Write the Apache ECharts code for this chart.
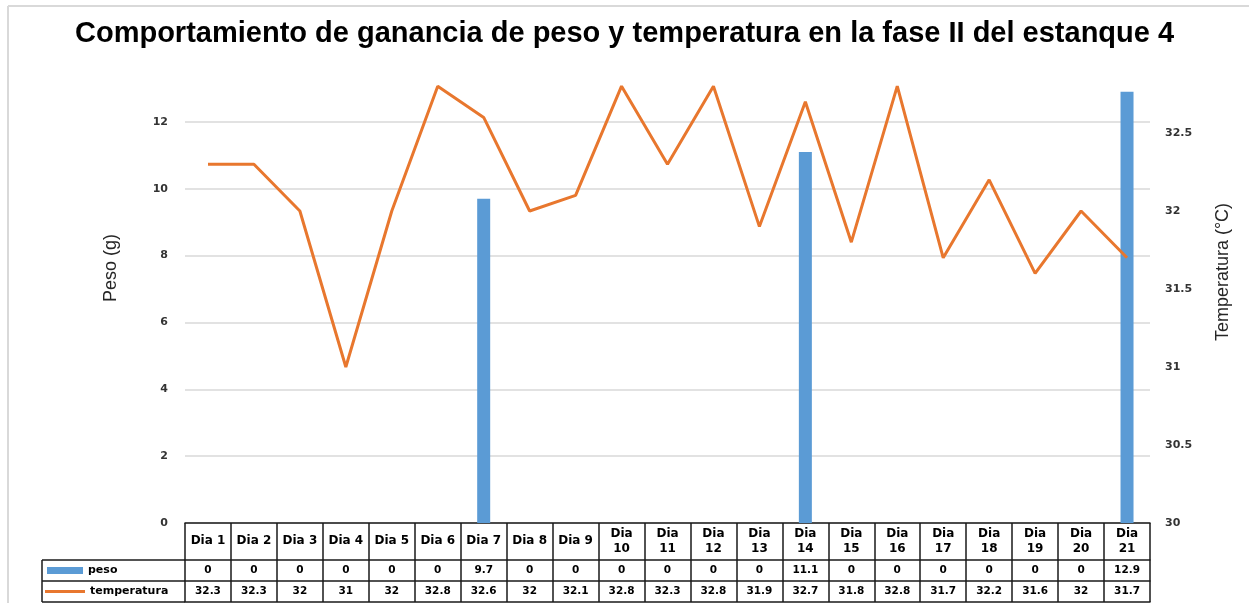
<!DOCTYPE html>
<html>
<head>
<meta charset="utf-8">
<script src="https://cdn.jsdelivr.net/npm/echarts@6/dist/echarts.min.js"></script>
<style>
  html, body { margin: 0; padding: 0; background: #fff; }
  #chart { width: 1249px; height: 603px; }
</style>
</head>
<body>
<div id="chart"></div>
<script>
var categories = ["Dia 1", "Dia 2", "Dia 3", "Dia 4", "Dia 5", "Dia 6", "Dia 7", "Dia 8", "Dia 9", "Dia 10", "Dia 11",
  "Dia 12", "Dia 13", "Dia 14", "Dia 15", "Dia 16", "Dia 17", "Dia 18", "Dia 19", "Dia 20", "Dia 21"];
var peso = [0, 0, 0, 0, 0, 0, 9.7, 0, 0, 0, 0, 0, 0, 11.1, 0, 0, 0, 0, 0, 0, 12.9];
var temperatura = [32.3, 32.3, 32, 31, 32, 32.8, 32.6, 32, 32.1, 32.8, 32.3, 32.8, 31.9, 32.7, 31.8, 32.8, 31.7, 32.2, 31.6, 32, 31.7];

var myChart = echarts.init(document.getElementById("chart"));

var borde = { color: "#1a1a1a", width: 1.5 };
var fuenteTabla = { fontFamily: "DejaVu Sans", fontWeight: "bold", color: "#000" };

// filas de la tabla de datos: un eje categoria por fila
function filaTabla(serie, offset) {
  return {
    type: "category",
    position: "bottom",
    offset: offset,
    data: categories,
    axisLine: { show: true, lineStyle: borde },
    axisTick: { show: true, interval: 0, length: 21, lineStyle: borde },
    axisLabel: {
      interval: 0,
      margin: 10.5,
      verticalAlign: "middle",
      fontSize: 10.5,
      fontFamily: fuenteTabla.fontFamily,
      fontWeight: fuenteTabla.fontWeight,
      color: fuenteTabla.color,
      formatter: function (v) {
        return String(serie[categories.indexOf(v)]);
      }
    },
    splitLine: { show: false }
  };
}

var option = {
  animation: false,
  backgroundColor: "#fff",
  title: {
    text: "Comportamiento de ganancia de peso y temperatura en la fase II del estanque 4",
    left: 67,
    top: 17,
    padding: [2, 8],
    backgroundColor: "#fff",
    textStyle: {
      fontFamily: "Liberation Sans",
      fontWeight: "bold",
      fontSize: 29,
      color: "#000"
    }
  },
  legend: [
    {
      data: ["peso"],
      left: 47,
      top: 565,
      padding: 0,
      icon: "rect",
      itemWidth: 36,
      itemHeight: 7,
      selectedMode: false,
      textStyle: { fontFamily: "DejaVu Sans", fontWeight: "bold", fontSize: 11, color: "#000" }
    },
    {
      data: ["temperatura"],
      left: 45,
      top: 586,
      padding: 0,
      icon: "path://M0,0L40,0L40,3L0,3Z",
      itemWidth: 40,
      itemHeight: 3,
      selectedMode: false,
      textStyle: { fontFamily: "DejaVu Sans", fontWeight: "bold", fontSize: 11, color: "#000" }
    }
  ],
  grid: {
    left: 185,
    right: 99,
    top: 55,
    bottom: 80,
    containLabel: false,
    outerBoundsMode: "none"
  },
  xAxis: [
    {
      type: "category",
      position: "bottom",
      data: categories,
      axisLine: { show: true, lineStyle: borde },
      axisTick: { show: true, interval: 0, length: 37, lineStyle: borde },
      axisLabel: {
        interval: 0,
        margin: 18,
        verticalAlign: "middle",
        lineHeight: 15,
        fontSize: 12,
        fontFamily: fuenteTabla.fontFamily,
        fontWeight: fuenteTabla.fontWeight,
        color: fuenteTabla.color,
        formatter: function (v) {
          return v.length > 5 ? v.replace(" ", "\n") : v;
        }
      },
      splitLine: { show: false }
    },
    filaTabla(peso, 37),
    filaTabla(temperatura, 58),
    {
      type: "category",
      position: "bottom",
      offset: 79,
      data: categories,
      axisLine: { show: true, lineStyle: borde },
      axisTick: { show: false },
      axisLabel: { show: false },
      splitLine: { show: false }
    }
  ],
  yAxis: [
    {
      type: "value",
      name: "Peso (g)",
      nameLocation: "middle",
      nameRotate: 90,
      nameGap: 65,
      nameTextStyle: { fontFamily: "Liberation Sans", fontSize: 18, color: "#262626", padding: [0, 0, 0, 42] },
      min: 0,
      max: 14,
      interval: 2,
      axisLine: { show: false },
      axisTick: { show: false },
      axisLabel: {
        showMaxLabel: false,
        margin: 17,
        fontFamily: "DejaVu Sans",
        fontWeight: "bold",
        fontSize: 11,
        color: "#333"
      },
      splitLine: { show: true, showMaxLine: false, lineStyle: { color: "#d9d9d9", width: 1.5 } }
    },
    {
      type: "value",
      name: "Temperatura (°C)",
      nameLocation: "middle",
      nameRotate: 90,
      nameGap: 64,
      nameTextStyle: { fontFamily: "Liberation Sans", fontSize: 18, color: "#262626", padding: [0, 0, 0, 34] },
      min: 30,
      max: 33,
      interval: 0.5,
      axisLine: { show: false },
      axisTick: { show: false },
      axisLabel: {
        showMaxLabel: false,
        margin: 15,
        fontFamily: "DejaVu Sans",
        fontWeight: "bold",
        fontSize: 11,
        color: "#333"
      },
      splitLine: { show: false }
    }
  ],
  graphic: [
    // marco gris del grafico
    { type: "line", shape: { x1: 8, y1: 6, x2: 8, y2: 603 }, style: { stroke: "#d9d9d9", lineWidth: 2 }, z: -1 },
    { type: "line", shape: { x1: 8, y1: 6, x2: 1249, y2: 6 }, style: { stroke: "#d9d9d9", lineWidth: 2 }, z: -1 },
    // columna de leyenda de la tabla
    { type: "line", shape: { x1: 42, y1: 560, x2: 42, y2: 602 }, style: { stroke: borde.color, lineWidth: borde.width } },
    { type: "line", shape: { x1: 42, y1: 560, x2: 185, y2: 560 }, style: { stroke: borde.color, lineWidth: borde.width } },
    { type: "line", shape: { x1: 42, y1: 581, x2: 185, y2: 581 }, style: { stroke: borde.color, lineWidth: borde.width } },
    { type: "line", shape: { x1: 42, y1: 602, x2: 185, y2: 602 }, style: { stroke: borde.color, lineWidth: borde.width } }
  ],
  series: [
    {
      name: "peso",
      type: "bar",
      xAxisIndex: 0,
      yAxisIndex: 0,
      barWidth: 13,
      itemStyle: { color: "#5b9bd5" },
      data: peso
    },
    {
      name: "temperatura",
      type: "line",
      xAxisIndex: 0,
      yAxisIndex: 1,
      symbol: "none",
      lineStyle: { color: "#e8772e", width: 3 },
      itemStyle: { color: "#e8772e" },
      data: temperatura
    }
  ]
};

myChart.setOption(option);
</script>
</body>
</html>
